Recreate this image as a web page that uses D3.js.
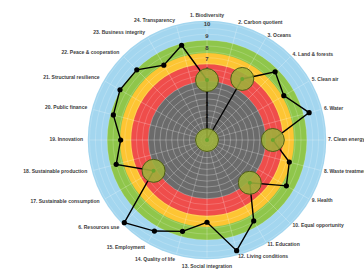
<!DOCTYPE html>
<html>
<head>
<meta charset="utf-8">
<script src="https://cdn.jsdelivr.net/npm/d3@7"></script>
<style>
  body { margin: 0; background: #fff; }
  svg { display: block; font-family: "Liberation Sans", Arial, sans-serif; }
</style>
</head>
<body>
<svg width="364" height="274"></svg>
<script>
// categories round the radar, clockwise from the top
const categories = [
  "1. Biodiversity", "2. Carbon quotient", "3. Oceans", "4. Land & forests",
  "5. Clean air", "6. Water", "7. Clean energy", "8. Waste treatment",
  "9. Health", "10. Equal opportunity", "11. Education", "12. Living conditions",
  "13. Social integration", "14. Quality of life", "15. Employment", "6. Resources use",
  "17. Sustainable consumption", "18. Sustainable production", "19. Innovation",
  "20. Public finance", "21. Structural resilience", "22. Peace & cooperation",
  "23. Business integrity", "24. Transparency"
];
const scores = [5.1, 0, 6.0, 8.2, 7.55, 9.0, 5.6, 7.25, 7.8, 5.15, 7.95, 9.75,
  7.0, 8.05, 8.95, 9.95, 5.25, 8.0, 7.35, 8.25, 8.55, 8.45, 7.35, 8.35];
// categories that get the olive highlight circle
const flagged = [1, 2, 3, 7, 10, 17];
// coloured bands (outer limit of each)
const bandLimits = [10.15, 8.5, 7.4, 6.45, 5.0];
const bandColors = ["#a3d6ef", "#8fc64b", "#fdc533", "#ef4d4b", "#6b6b6b"];
const outerTicks = [7, 8, 9, 10];
const innerTicks = [1, 2, 3, 4, 5, 6];

const svg = d3.select("svg");
const cx = 207, cy = 140;
const r = d3.scaleLinear().domain([0, 10]).range([0, 117.5]);
const ang = d3.scaleLinear().domain([0, categories.length]).range([0, 2 * Math.PI]);

const g = svg.append("g").attr("transform", `translate(${cx},${cy})`);

g.selectAll("circle.band")
  .data(bandLimits)
  .join("circle")
  .attr("class", "band")
  .attr("r", d => r(d))
  .style("fill", (d, i) => bandColors[i]);

// grid rings and spokes
const rings = d3.range(0.5, 10.01, 0.5);
g.selectAll("circle.grid")
  .data(rings)
  .join("circle")
  .attr("class", "grid")
  .attr("r", d => r(d))
  .style("fill", "none")
  .style("stroke", "#fff")
  .style("stroke-opacity", d => d <= 5 ? 0.45 : 0.3)
  .style("stroke-width", 0.6);

g.selectAll("line.spoke")
  .data(categories)
  .join("line")
  .attr("class", "spoke")
  .attr("x2", (d, i) => r(10) * Math.sin(ang(i)))
  .attr("y2", (d, i) => -r(10) * Math.cos(ang(i)))
  .style("stroke", "#fff")
  .style("stroke-opacity", 0.4)
  .style("stroke-width", 0.6);

// tick labels along the top spoke
g.selectAll("text.otick")
  .data(outerTicks)
  .join("text")
  .attr("class", "otick")
  .attr("y", d => -r(d) + 2)
  .attr("text-anchor", "middle")
  .attr("dominant-baseline", "middle")
  .style("font-size", "6px")
  .style("font-weight", "bold")
  .style("fill", "#3a3a3a")
  .text(d => d);

g.selectAll("text.itick")
  .data(innerTicks)
  .join("text")
  .attr("class", "itick")
  .attr("y", d => -r(d))
  .attr("text-anchor", "middle")
  .attr("dominant-baseline", "middle")
  .style("font-size", "4.5px")
  .style("fill", "#111")
  .text(d => d);

// score line
const line = d3.lineRadial()
  .angle((d, i) => ang(i))
  .radius(d => r(d))
  .curve(d3.curveLinearClosed);

g.append("path")
  .datum(scores)
  .attr("d", line)
  .style("fill", "none")
  .style("stroke", "#000")
  .style("stroke-width", 1.4);

const pts = scores.map((v, i) => ({
  n: i + 1,
  x: r(v) * Math.sin(ang(i)),
  y: -r(v) * Math.cos(ang(i))
}));

g.selectAll("circle.dot")
  .data(pts.filter(p => !flagged.includes(p.n)))
  .join("circle")
  .attr("class", "dot")
  .attr("cx", d => d.x)
  .attr("cy", d => d.y)
  .attr("r", 2.6)
  .style("fill", "#000");

const hl = pts.filter(p => flagged.includes(p.n));
g.selectAll("circle.hl")
  .data(hl)
  .join("circle")
  .attr("class", "hl")
  .attr("cx", d => d.x)
  .attr("cy", d => d.y)
  .attr("r", 11.5)
  .style("fill", "#9db23a")
  .style("fill-opacity", 0.88)
  .style("stroke", "#4e5c17")
  .style("stroke-width", 1);

g.selectAll("circle.hlmark")
  .data(hl)
  .join("circle")
  .attr("class", "hlmark")
  .attr("cx", d => d.x)
  .attr("cy", d => d.y)
  .attr("r", 2)
  .style("fill", "#6aa52e");

// category labels
g.selectAll("text.cat")
  .data(categories)
  .join("text")
  .attr("class", "cat")
  .each(function (d, i) {
    const a = ang(i);
    const s = Math.sin(a), c = Math.cos(a);
    let R = s < -0.1 ? 124 : 121;
    if (Math.abs(s) < 0.1) R = c > 0 ? 124 : 127;
    d3.select(this)
      .attr("x", R * s)
      .attr("y", -R * c)
      .attr("text-anchor", Math.abs(s) < 0.1 ? "middle" : (s > 0 ? "start" : "end"));
  })
  .attr("dominant-baseline", "middle")
  .style("font-size", "5px")
  .style("font-weight", "bold")
  .style("fill", "#3c3c3c")
  .text(d => d);
</script>
</body>
</html>
